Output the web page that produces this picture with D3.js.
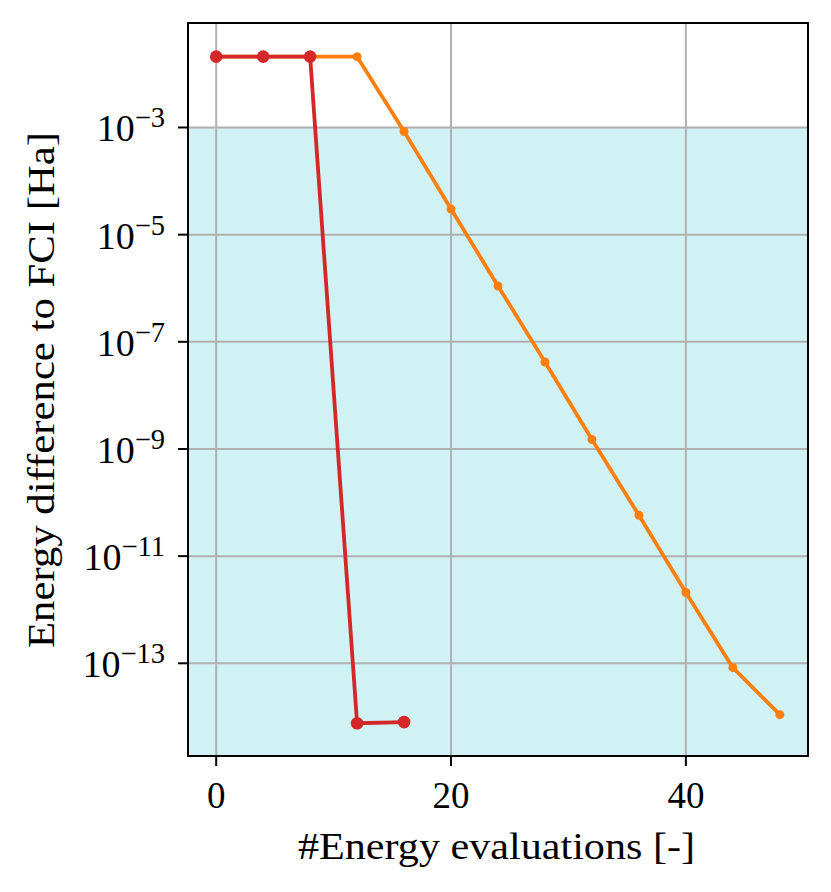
<!DOCTYPE html>
<html>
<head>
<meta charset="utf-8">
<script src="https://cdn.jsdelivr.net/npm/d3@7"></script>
<style>
  html, body { margin: 0; padding: 0; background: #fff; }
  text { font-family: "Liberation Serif", "DejaVu Serif", serif; fill: #000; }
</style>
</head>
<body>
<div id="chart"></div>
<script>
// data +++++++++++++++++++++++++++++++++++++++++
const orangeX = [0, 4, 8, 12, 16, 20, 24, 28, 32, 36, 40, 44, 48];
const orangeY = [2.1e-2, 2.1e-2, 2.1e-2, 2.1e-2, 8.4e-4, 3.0e-5, 1.1e-6, 4.2e-8, 1.5e-9, 5.8e-11, 2.1e-12, 8.3e-14, 1.1e-14];
const redX = [0, 4, 8, 12, 16];
const redY = [2.1e-2, 2.1e-2, 2.1e-2, 7.6e-15, 8.0e-15];
const xTicks = [0, 20, 40];
const yTickExps = [-3, -5, -7, -9, -11, -13];
const shadeTop = 1e-3;
const xLabel = "#Energy evaluations [-]";
const yLabel = "Energy difference to FCI [Ha]";
// data -----------------------------------------

const width = 831, height = 892;
const plotLeft = 188, plotRight = 808, plotTop = 23, plotBottom = 756;

const svg = d3.select("#chart").append("svg")
  .attr("width", width)
  .attr("height", height);

const x = d3.scaleLinear().domain([-2.4, 50.4]).range([plotLeft, plotRight]);
const y = d3.scaleLog().domain([Math.pow(10, -14.73), Math.pow(10, -1.05)]).range([plotBottom, plotTop]);

// shaded region below chemical accuracy
svg.append("rect")
  .attr("x", plotLeft)
  .attr("y", y(shadeTop))
  .attr("width", plotRight - plotLeft)
  .attr("height", plotBottom - y(shadeTop))
  .attr("fill", "#d1f2f5");

// grid
const grid = svg.append("g").attr("stroke", "#b0b0b0").attr("stroke-width", 2);
xTicks.forEach(t => {
  grid.append("line").attr("x1", x(t)).attr("x2", x(t)).attr("y1", plotTop).attr("y2", plotBottom);
});
yTickExps.forEach(e => {
  grid.append("line").attr("x1", plotLeft).attr("x2", plotRight).attr("y1", y(Math.pow(10, e))).attr("y2", y(Math.pow(10, e)));
});

// lines
const line = d3.line().x(d => x(d[0])).y(d => y(d[1]));
const orange = d3.zip(orangeX, orangeY);
const red = d3.zip(redX, redY);

svg.append("path").datum(orange)
  .attr("d", line).attr("fill", "none")
  .attr("stroke", "#ff7f0e").attr("stroke-width", 3.8).attr("stroke-linejoin", "round");
svg.selectAll("circle.orange").data(orange).enter().append("circle")
  .attr("class", "orange")
  .attr("cx", d => x(d[0])).attr("cy", d => y(d[1])).attr("r", 4.5)
  .attr("fill", "#ff7f0e");

svg.append("path").datum(red)
  .attr("d", line).attr("fill", "none")
  .attr("stroke", "#d62728").attr("stroke-width", 3.8).attr("stroke-linejoin", "round");
svg.selectAll("circle.red").data(red).enter().append("circle")
  .attr("class", "red")
  .attr("cx", d => x(d[0])).attr("cy", d => y(d[1])).attr("r", 6.3)
  .attr("fill", "#d62728");

// frame
svg.append("rect")
  .attr("x", plotLeft).attr("y", plotTop)
  .attr("width", plotRight - plotLeft).attr("height", plotBottom - plotTop)
  .attr("fill", "none").attr("stroke", "#000").attr("stroke-width", 2);

// x ticks
const fs = 37;
xTicks.forEach(t => {
  svg.append("line").attr("x1", x(t)).attr("x2", x(t)).attr("y1", plotBottom).attr("y2", plotBottom + 10)
    .attr("stroke", "#000").attr("stroke-width", 2);
  svg.append("text").attr("x", x(t)).attr("y", 808)
    .attr("text-anchor", "middle").attr("font-size", fs).text(t);
});

// y ticks
yTickExps.forEach(e => {
  const yy = y(Math.pow(10, e));
  svg.append("line").attr("x1", plotLeft - 10).attr("x2", plotLeft).attr("y1", yy).attr("y2", yy)
    .attr("stroke", "#000").attr("stroke-width", 2);
  const t = svg.append("text").attr("x", 165).attr("y", yy + 14)
    .attr("text-anchor", "end").attr("font-size", 38);
  t.append("tspan").text("10");
  t.append("tspan").attr("dy", -14).attr("font-size", 38 * 0.75).text("\u2212" + Math.abs(e));
});

// axis labels
svg.append("text")
  .attr("x", (298 + 695) / 2).attr("y", 859)
  .attr("text-anchor", "middle").attr("font-size", fs)
  .attr("textLength", 397).attr("lengthAdjust", "spacingAndGlyphs")
  .text(xLabel);

svg.append("text")
  .attr("transform", `translate(54, ${(132 + 648) / 2}) rotate(-90)`)
  .attr("text-anchor", "middle").attr("font-size", fs)
  .attr("textLength", 516).attr("lengthAdjust", "spacingAndGlyphs")
  .text(yLabel);
</script>
</body>
</html>
